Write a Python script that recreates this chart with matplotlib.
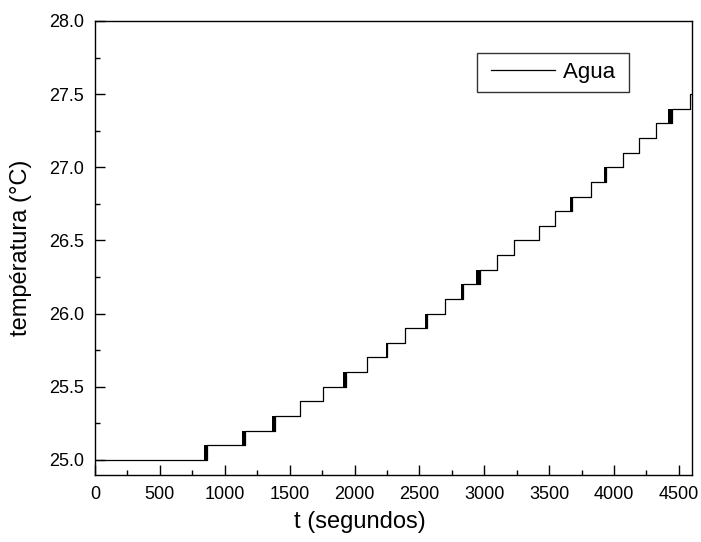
import matplotlib.pyplot as plt
import numpy as np
from matplotlib.ticker import MultipleLocator
from matplotlib.legend_handler import HandlerLine2D

plt.rcParams['font.family'] = ['Liberation Sans', 'DejaVu Sans']

# temperature levels (°C) and the time (s) each level is first reached
levels = [25.0, 25.1, 25.2, 25.3, 25.4, 25.5, 25.6, 25.7, 25.8, 25.9,
          26.0, 26.1, 26.2, 26.3, 26.4, 26.5, 26.6, 26.7, 26.8, 26.9,
          27.0, 27.1, 27.2, 27.3, 27.4, 27.5]
t_start = [0, 860, 1155, 1386, 1579, 1758, 1931, 2093, 2254, 2388,
           2562, 2695, 2837, 2970, 3101, 3227, 3420, 3543, 3676, 3826,
           3941, 4069, 4190, 4321, 4449, 4582]
t_end = 4598

# length (s) of the sensor flicker between two readings at each change
flicker = [0, 22, 22, 18, 0, 0, 18, 0, 8, 0,
           22, 0, 18, 30, 0, 0, 0, 0, 18, 0,
           18, 0, 0, 0, 35, 0]

t = np.array(t_start + [t_end])
T = np.array(levels + [levels[-1]])

fig = plt.figure(figsize=(7.01, 5.42), dpi=100)
ax = fig.add_axes([0.1355, 0.1245, 0.8515, 0.8368])

line, = ax.plot(t, T, drawstyle='steps-post', color='black', lw=0.9, label='Agua ')

# noisy transitions show up as a solid bar between the two levels
for i in range(1, len(levels)):
    w = flicker[i]
    if w > 0:
        ax.fill_between([t_start[i] - w, t_start[i]], levels[i - 1], levels[i],
                        color='black', lw=0)

ax.set_xlim(0, 4600)
ax.set_ylim(24.9, 28.0)
ax.xaxis.set_major_locator(MultipleLocator(500))
ax.xaxis.set_minor_locator(MultipleLocator(250))
ax.yaxis.set_major_locator(MultipleLocator(0.5))
ax.yaxis.set_minor_locator(MultipleLocator(0.25))
ax.set_yticks(np.arange(25.0, 28.01, 0.5))
ax.yaxis.set_major_formatter(plt.FormatStrFormatter('%.1f'))

ax.tick_params(which='major', direction='in', length=7, width=1, labelsize=13, pad=8)
ax.tick_params(which='minor', direction='in', length=3.5, width=1)
for s in ax.spines.values():
    s.set_linewidth(1)

ax.set_xlabel('t (segundos)', fontsize=17, labelpad=6)
ax.xaxis.label.set_x(0.444)
ax.set_ylabel('températura (°C)', fontsize=17, labelpad=12)

leg = ax.legend(loc='upper left', bbox_to_anchor=(0.64, 0.929), borderaxespad=0,
                fontsize=16, frameon=True, fancybox=False, handlelength=3.1,
                handletextpad=0.36, borderpad=0.39,
                handler_map={line: HandlerLine2D(xpad=0.25)})
leg.get_frame().set_edgecolor('black')
leg.get_frame().set_linewidth(1)

fig.savefig('out.png', dpi=100)
